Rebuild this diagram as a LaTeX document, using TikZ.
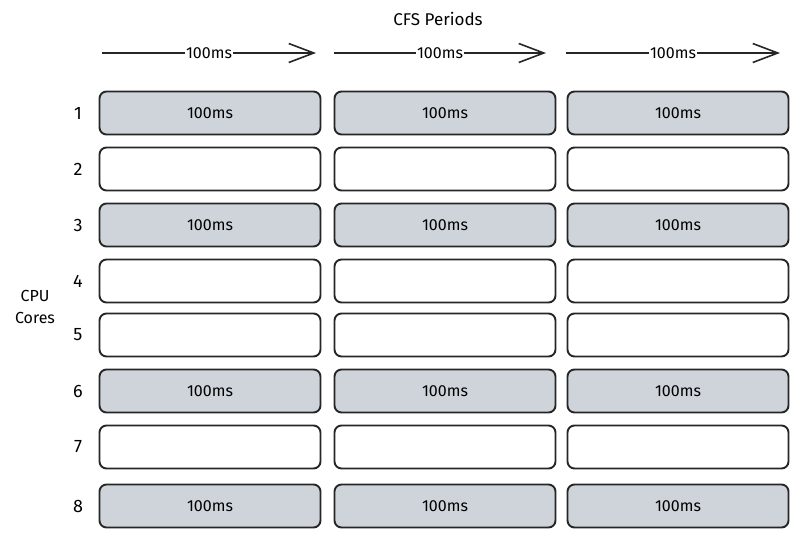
\documentclass[tikz,border=0pt]{standalone}
\usepackage{fontspec}
\setmainfont{Fira Sans}
\usepackage[rgb]{xcolor}
\usepackage{tikz}
\usetikzlibrary{arrows.meta}
\definecolor{slotgray}{HTML}{CED4DA}

\begin{document}
\begin{tikzpicture}[x=1pt, y=-1pt,
  slot/.style = {draw=black!85, line width=1.9pt, rounded corners=7pt,
                 minimum width=221pt, minimum height=43pt, inner sep=0pt,
                 font=\fontsize{16}{18}\selectfont},
  busy/.style = {slot, fill=slotgray},
  idle/.style = {slot, fill=white},
  period/.style = {line width=1.6pt, draw=black!85,
                   -{Straight Barb[length=25pt, width=19pt, line width=1.6pt]}},
  plabel/.style = {fill=white, inner sep=1pt, font=\fontsize{16}{18}\selectfont},
  corenum/.style = {font=\fontsize{18}{20}\selectfont}
]
\useasboundingbox (0,0) rectangle (801,539);

% CFS periods on top, one arrow per period
\path
(438,19) node [font=\fontsize{17}{19}\selectfont] (cfs) {CFS Periods};

 \foreach \c/\xa/\xb in {1/102/316, 2/334/546, 3/566/780}
  {
    \coordinate (ps\c) at (\xa,53);
    \coordinate (pe\c) at (\xb,53);
    \draw[period] (ps\c) -- node [plabel] {100ms} (pe\c);
  }

%% cpu cores label
\path
(35,307) node [align=center, font=\fontsize{16}{22}\selectfont] (cores) {CPU\\Cores};

%% slots, one row per core
 \foreach \r/\y/\f/\t in {1/113/busy/100ms, 2/169/idle/{}, 3/225/busy/100ms,
                          4/281/idle/{}, 5/335/idle/{}, 6/391/busy/100ms,
                          7/447/idle/{}, 8/506/busy/100ms}
  {
    \node [corenum] (n\r) at (78,\y) {\r};
    \foreach \c/\x in {1/210, 2/445, 3/678}
      \node [\f] (s\r-\c) at (\x,\y) {\t};
  }

\end{tikzpicture}
\end{document}
